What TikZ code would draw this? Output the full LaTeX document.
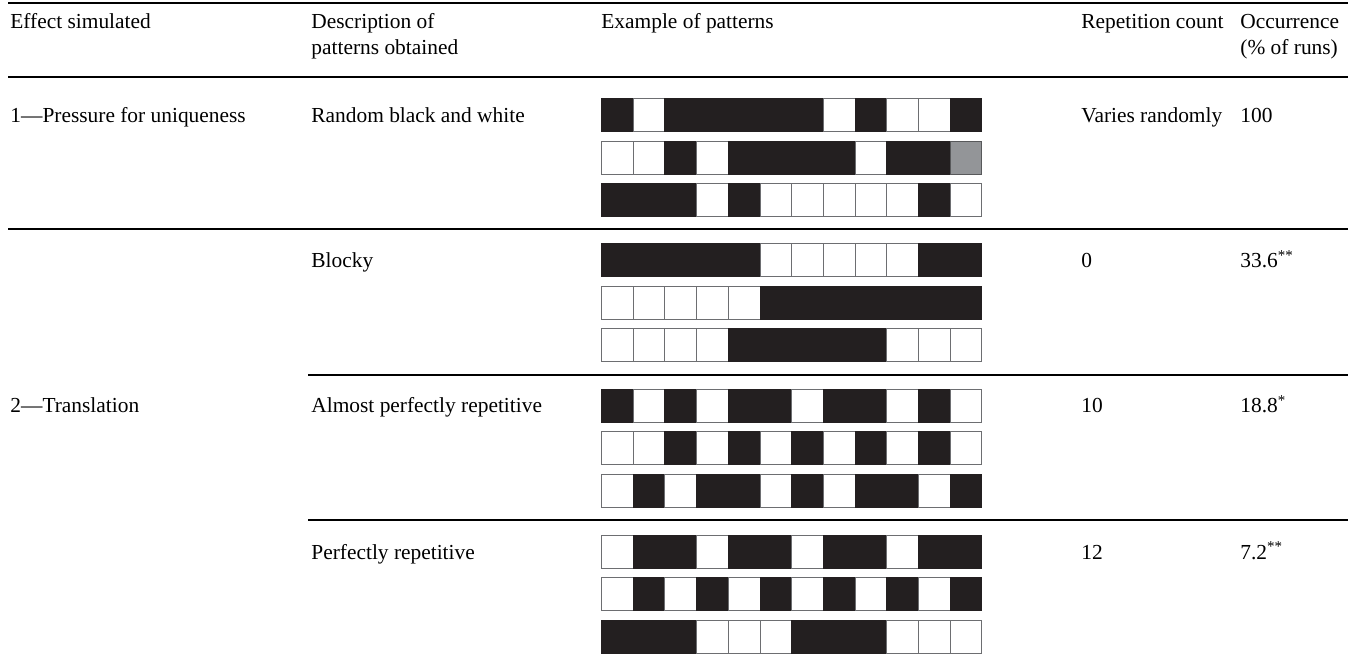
\documentclass[tikz,border=0pt]{standalone}
\usepackage{fontspec}
\setmainfont{Liberation Serif}
% colours of the pattern cells (fill and edge per kind: B black, W white, G grey)
\definecolor{cellB}{HTML}{231F20}
\definecolor{cellW}{HTML}{FFFFFF}
\definecolor{cellG}{HTML}{939598}
\definecolor{edgeB}{HTML}{231F20}
\definecolor{edgeW}{HTML}{6D6E71}
\definecolor{edgeG}{HTML}{58595B}
\tikzset{
	txt/.style={anchor=base west, inner sep=0pt, font=\fontsize{10.7}{13}\selectfont},
	rule/.style={line width=1.25pt},
	midrule/.style={line width=1pt},
}
% one row of twelve cells: #1 = top, #2 = kinds
\newcommand\patrow[2]{%
	\foreach \c [count=\i from 0] in {#2}
		\filldraw [fill=cell\c, draw=edge\c, line width=0.5pt] ( 601.5+\i*31.7, #1 ) rectangle ++( 31.7, 33 );
}
\begin{document}
\begin{tikzpicture}[x=0.5pt, y=-0.5pt]
		\useasboundingbox ( 0, 0 ) rectangle ( 1360, 662 );

		% линии таблицы
		\draw [rule] ( 8, 3 ) -- ( 1348, 3 );
		\draw [rule] ( 8, 77 ) -- ( 1348, 77 );
		\draw [midrule] ( 8, 229 ) -- ( 1348, 229 );
		\draw [midrule] ( 308, 375 ) -- ( 1348, 375 );
		\draw [midrule] ( 308, 520 ) -- ( 1348, 520 );

		% заголовок
		\node [txt] (hEffect) at ( 10, 29 ) {Effect simulated};
		\node [txt] (hDesc) at ( 311, 29 ) {Description of};
		\node [txt] (hDescB) at ( 311, 55 ) {patterns obtained};
		\node [txt] (hExample) at ( 601, 29 ) {Example of patterns};
		\node [txt] (hRep) at ( 1081, 29 ) {Repetition count};
		\node [txt] (hOcc) at ( 1240, 29 ) {Occurrence};
		\node [txt] (hOccB) at ( 1240, 55 ) {(\% of runs)};

		% эффект 1
		\node [txt] (effUnique) at ( 10, 123 ) {1---Pressure for uniqueness};
		\node [txt] (descRandom) at ( 311, 123 ) {Random black and white};
		\node [txt] (repRandom) at ( 1081, 123 ) {Varies randomly};
		\node [txt] (occRandom) at ( 1240, 123 ) {100};
		\patrow{ 99.0 }{B,W,B,B,B,B,B,W,B,W,W,B}
		\patrow{ 141.5 }{W,W,B,W,B,B,B,B,W,B,B,G}
		\patrow{ 184.0 }{B,B,B,W,B,W,W,W,W,W,B,W}

		% эффект 2
		\node [txt] (effTrans) at ( 10, 413 ) {2---Translation};

		% блоки
		\node [txt] (descBlocky) at ( 311, 268 ) {Blocky};
		\node [txt] (repBlocky) at ( 1081, 268 ) {0};
		\node [txt] (occBlocky) at ( 1240, 268 ) {33.6\textsuperscript{**}};
		\patrow{ 244.0 }{B,B,B,B,B,W,W,W,W,W,B,B}
		\patrow{ 286.5 }{W,W,W,W,W,B,B,B,B,B,B,B}
		\patrow{ 329.0 }{W,W,W,W,B,B,B,B,B,W,W,W}

		% почти периодичные
		\node [txt] (descAlmost) at ( 311, 413 ) {Almost perfectly repetitive};
		\node [txt] (repAlmost) at ( 1081, 413 ) {10};
		\node [txt] (occAlmost) at ( 1240, 413 ) {18.8\textsuperscript{*}};
		\patrow{ 389.5 }{B,W,B,W,B,B,W,B,B,W,B,W}
		\patrow{ 432.0 }{W,W,B,W,B,W,B,W,B,W,B,W}
		\patrow{ 474.5 }{W,B,W,B,B,W,B,W,B,B,W,B}

		% периодичные
		\node [txt] (descPerfect) at ( 311, 559 ) {Perfectly repetitive};
		\node [txt] (repPerfect) at ( 1081, 559 ) {12};
		\node [txt] (occPerfect) at ( 1240, 559 ) {7.2\textsuperscript{**}};
		\patrow{ 535.0 }{W,B,B,W,B,B,W,B,B,W,B,B}
		\patrow{ 577.5 }{W,B,W,B,W,B,W,B,W,B,W,B}
		\patrow{ 620.0 }{B,B,B,W,W,W,B,B,B,W,W,W}
	\end{tikzpicture}
\end{document}
